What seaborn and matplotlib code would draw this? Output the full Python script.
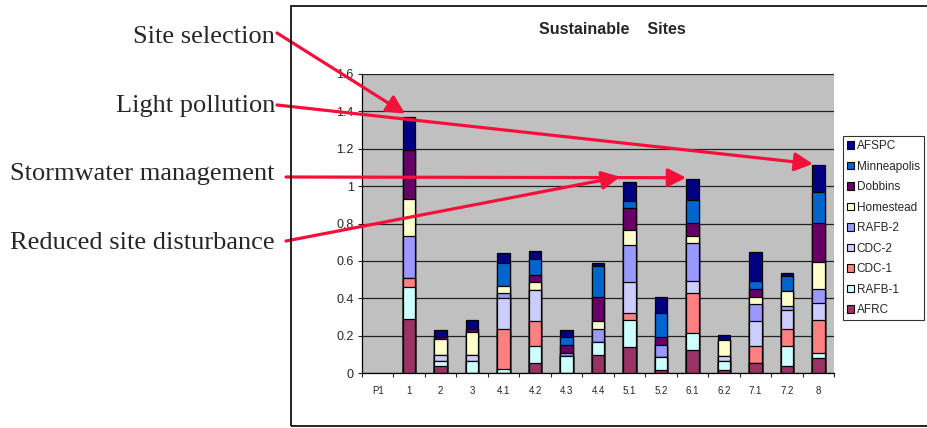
import numpy as np
import pandas as pd
import matplotlib
matplotlib.use("Agg")
import matplotlib.pyplot as plt
from matplotlib.patches import Patch, Rectangle
from matplotlib.ticker import FixedLocator, FuncFormatter
import seaborn as sns

sns.set_style("white")
plt.rcParams['font.family'] = ['Liberation Sans', 'DejaVu Sans']

# ---- data (stack order bottom -> top) ----
categories = ["P1", "1", "2", "3", "4.1", "4.2", "4.3", "4.4",
              "5.1", "5.2", "6.1", "6.2", "7.1", "7.2", "8"]

afrc        = [0, 0.288, 0.040, 0,     0,     0.053, 0,     0.094, 0.141, 0.014, 0.121, 0.014, 0.055, 0.039, 0.080]
rafb_1      = [0, 0.171, 0.025, 0.064, 0.021, 0.091, 0.089, 0.073, 0.140, 0.071, 0.092, 0.050, 0,     0.105, 0.027]
cdc_1       = [0, 0.052, 0,     0,     0.216, 0.134, 0,     0,     0.039, 0,     0.214, 0,     0.089, 0.093, 0.174]
cdc_2       = [0, 0,     0.030, 0.032, 0.165, 0.167, 0,     0,     0.166, 0,     0.066, 0.029, 0.134, 0.101, 0.095]
rafb_2      = [0, 0.224, 0,     0,     0.025, 0,     0.020, 0.070, 0.201, 0.066, 0.201, 0,     0.089, 0.020, 0.071]
homestead   = [0, 0.197, 0.085, 0.121, 0.036, 0.041, 0,     0.041, 0.078, 0,     0.041, 0.085, 0.042, 0.080, 0.149]
dobbins     = [0, 0.263, 0.015, 0.021, 0,     0.041, 0.042, 0.128, 0.116, 0.039, 0.068, 0,     0.041, 0,     0.207]
minneapolis = [0, 0,     0,     0,     0.124, 0.085, 0.041, 0.167, 0.041, 0.130, 0.122, 0,     0.043, 0.083, 0.168]
afspc       = [0, 0.173, 0.035, 0.043, 0.053, 0.043, 0.036, 0.016, 0.101, 0.086, 0.112, 0.025, 0.155, 0.015, 0.141]

series_names = ["AFRC", "RAFB-1", "CDC-1", "CDC-2", "RAFB-2",
                "Homestead", "Dobbins", "Minneapolis", "AFSPC"]
series_colors = ["#993366", "#CCFFFF", "#FF8080", "#CCCCFF", "#9999FF",
                 "#FFFFCC", "#660066", "#0066CC", "#000080"]

# callouts: label, category the arrow points at
callouts = [("Site selection", "1"),
            ("Light pollution", "8"),
            ("Stormwater management", "6.1"),
            ("Reduced site disturbance", "5.1")]

df = pd.DataFrame(
    [afrc, rafb_1, cdc_1, cdc_2, rafb_2, homestead, dobbins, minneapolis, afspc],
    index=series_names, columns=categories).T
cum = df.cumsum(axis=1)
totals = cum["AFSPC"]

# ---- figure ----
W, H = 927, 428
fig = plt.figure(figsize=(W / 100, H / 100), dpi=100)
ax = fig.add_axes([362 / W, 1 - 373 / H, (834 - 362) / W, (373 - 74) / H])
ax.set_facecolor("#C0C0C0")

bar_w = 0.4
# draw stacked bars by overlaying cumulative heights, top series first
for name, color in reversed(list(zip(series_names, series_colors))):
    heights = cum[name].where(totals > 0)  # empty columns get no bar at all
    sns.barplot(x=categories, y=heights.values, order=categories, color=color,
                saturation=1, width=bar_w, edgecolor="black", linewidth=0.9,
                errorbar=None, ax=ax, zorder=3)

ax.set_ylim(0, 1.6)
ax.set_xlim(-0.5, len(categories) - 0.5)
ax.yaxis.set_major_locator(FixedLocator(np.arange(0, 1.61, 0.2)))
ax.yaxis.set_major_formatter(FuncFormatter(lambda v, p: f"{v:g}"))
ax.grid(axis="y", color="#222222", linewidth=0.9, zorder=0)
ax.set_axisbelow(True)
for s in ["top", "right"]:
    ax.spines[s].set_visible(False)
for s in ["left", "bottom"]:
    ax.spines[s].set_color("black")
    ax.spines[s].set_linewidth(0.9)
    ax.spines[s].set_zorder(4)

ax.tick_params(axis="y", direction="out", length=3, width=0.8, labelsize=9, pad=3, left=True)
ax.tick_params(axis="x", which="major", length=0, labelsize=7, pad=9)
ax.set_xticks(np.arange(-0.5, len(categories), 1), minor=True)
ax.tick_params(axis="x", which="minor", direction="out", length=3, width=0.8, bottom=True)
ax.set_xlabel("")
ax.set_ylabel("")

fig.text(612 / W, 1 - 29 / H, "Sustainable    Sites", ha="center", va="center",
         fontsize=11.5, fontweight="bold")

# legend, top entry = top of stack
handles = [Patch(facecolor=c, edgecolor="black", linewidth=0.8) for c in series_colors][::-1]
leg = fig.legend(handles, series_names[::-1], loc="upper left",
                 bbox_to_anchor=(843 / W, 1 - 136 / H), frameon=True, fancybox=False,
                 fontsize=8.5, handlelength=0.55, handleheight=0.55, handletextpad=0.25,
                 labelspacing=0.72, borderpad=0.35, borderaxespad=0)
leg.get_frame().set_edgecolor("black")
leg.get_frame().set_linewidth(0.8)

# chart frame
fig.add_artist(Rectangle((291 / W, 1 - 426 / H), (W + 5 - 291) / W, (426 - 6) / H,
                         transform=fig.transFigure, fill=False, edgecolor="black",
                         linewidth=1.2, clip_on=False))

# callout text + arrows
text_pos = [(275, 43), (275, 112), (275, 180), (275, 249)]
arrow_start = [(277, 33), (277, 105), (286, 177), (286, 241)]
tip_dy = [0.02, 0.007, 0.008, 0.027]
tip_dx = [-0.13, -0.17, -0.2, -0.3]
red = "#F5103A"
for (label, cat), (tx, ty), (sx, sy), dy, dx in zip(callouts, text_pos, arrow_start, tip_dy, tip_dx):
    fig.text(tx / W, 1 - ty / H, label, ha="right", va="baseline",
             family="Liberation Serif", fontsize=19)
    i = categories.index(cat)
    ax.annotate("", xy=(i + dx, totals[cat] + dy), xycoords="data",
                xytext=(sx, H - sy), textcoords="figure pixels",
                arrowprops=dict(arrowstyle="-|>,head_length=0.55,head_width=0.28",
                                color=red, lw=2.3, mutation_scale=20,
                                shrinkA=0, shrinkB=0),
                annotation_clip=False, zorder=10)

fig.savefig("out.png", dpi=100)
